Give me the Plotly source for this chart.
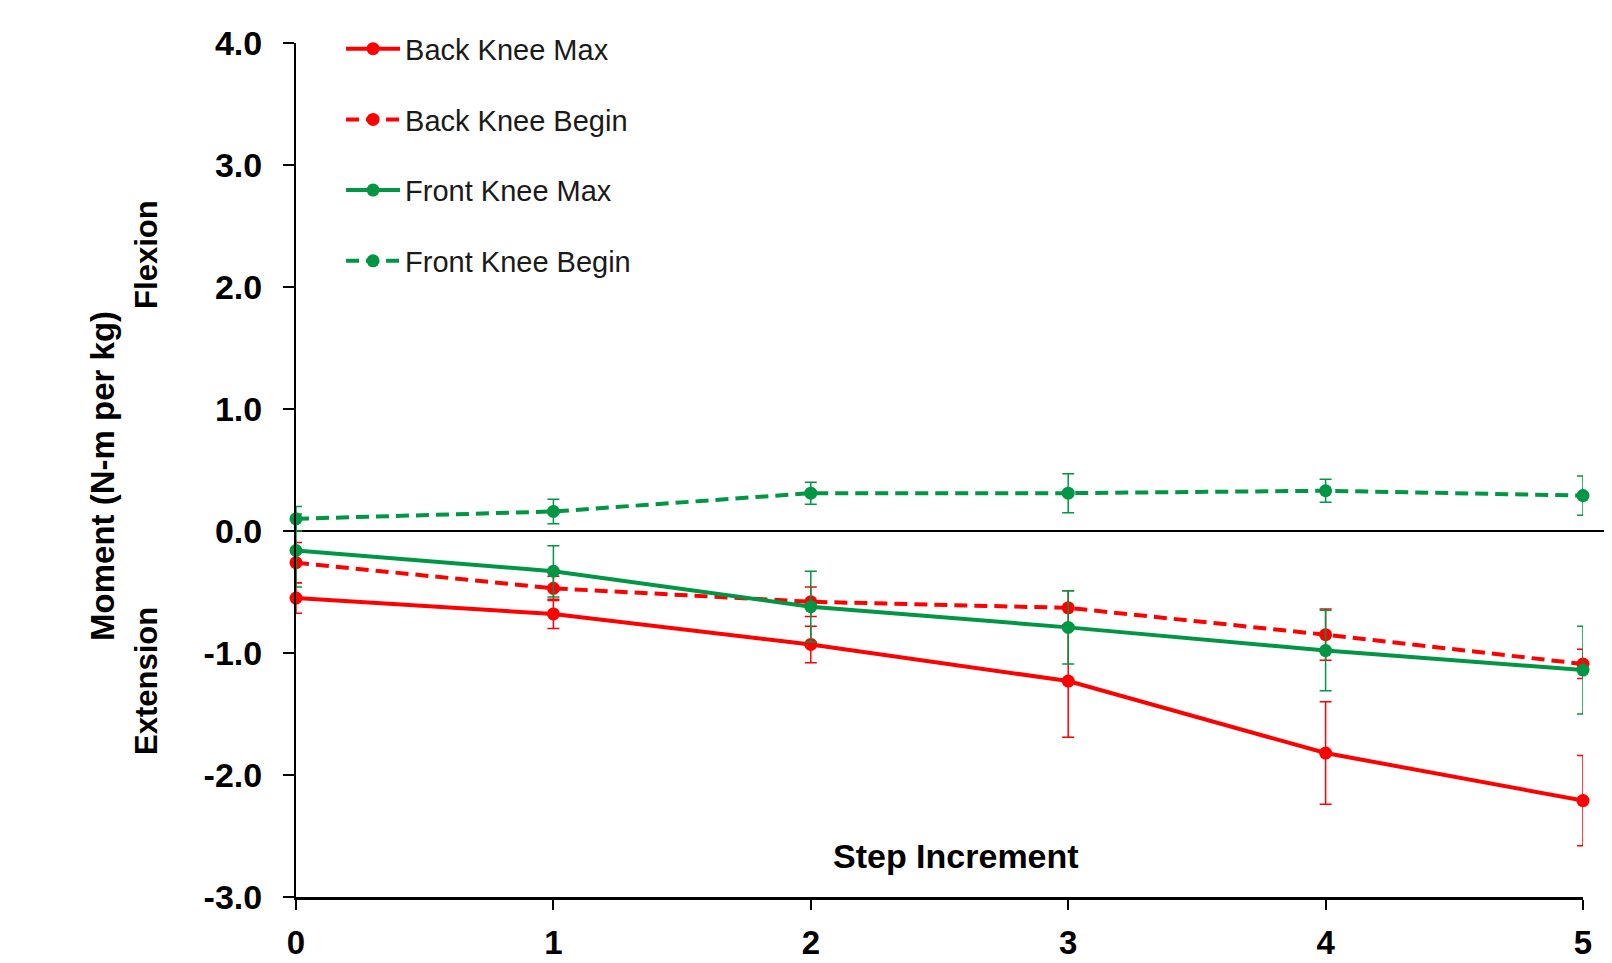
import plotly.graph_objects as go

# ---- data ----
steps = [0, 1, 2, 3, 4, 5]
x_tick_labels = ["0", "1", "2", "3", "4", "5"]
y_tick_vals = [-3, -2, -1, 0, 1, 2, 3, 4]
y_tick_labels = ["-3.0", "-2.0", "-1.0", "0.0", "1.0", "2.0", "3.0", "4.0"]

back_max = [-0.55, -0.68, -0.93, -1.23, -1.82, -2.21]
back_max_err = [0.125, 0.12, 0.15, 0.46, 0.42, 0.37]

back_begin = [-0.26, -0.47, -0.58, -0.63, -0.85, -1.09]
back_begin_err = [0.165, 0.10, 0.12, 0.14, 0.21, 0.12]

front_max = [-0.16, -0.33, -0.62, -0.79, -0.98, -1.14]
front_max_err = [0.30, 0.21, 0.29, 0.30, 0.33, 0.36]

front_begin = [0.10, 0.16, 0.31, 0.31, 0.33, 0.29]
front_begin_err = [0.10, 0.10, 0.09, 0.16, 0.095, 0.16]

RED = "#FF0000"
GREEN = "#009644"
FONT = "Liberation Sans"

series = [
    ("Back Knee Max", back_max, back_max_err, RED, "solid"),
    ("Back Knee Begin", back_begin, back_begin_err, RED, "13px,7px"),
    ("Front Knee Max", front_max, front_max_err, GREEN, "solid"),
    ("Front Knee Begin", front_begin, front_begin_err, GREEN, "13px,7px"),
]

fig = go.Figure()
for i, (name, vals, errs, col, dash) in enumerate(series):
    fig.add_trace(go.Scatter(
        x=steps, y=vals, name=name, mode="lines+markers",
        line=dict(color=col, width=4, dash=dash),
        marker=dict(color=col, size=13, symbol="circle"),
        error_y=dict(type="data", array=errs, visible=True,
                     color=col, thickness=1.5, width=6),
        legendgroup="g%d" % i,
        cliponaxis=False,
    ))

# zero line extending to right edge
fig.add_shape(type="line", xref="paper", yref="y", x0=0, x1=1.05, y0=0, y1=0,
              line=dict(color="black", width=2), layer="below")

# page body has an 8px margin, so the figure is 8px smaller and offset
fig.update_layout(
    width=1604, height=955,
    margin=dict(l=288, r=29, t=35, b=66, autoexpand=False),
    paper_bgcolor="white", plot_bgcolor="white",
    font=dict(family=FONT, color="black"),
    showlegend=True,
    legend=dict(x=0.035, xanchor="left", y=1.023, yanchor="top",
                font=dict(family=FONT, size=29, color="#1a1a1a"),
                traceorder="grouped", tracegroupgap=30,
                bgcolor="rgba(0,0,0,0)", itemwidth=54),
    xaxis=dict(range=[0, 5], tickvals=steps, ticktext=x_tick_labels,
               showgrid=False, zeroline=False, automargin=False,
               showline=True, linecolor="black", linewidth=3,
               ticks="outside", ticklen=10, tickwidth=2, tickcolor="black",
               tickfont=dict(family=FONT, size=33, color="black", weight="bold"),
               ticklabelstandoff=4),
    yaxis=dict(range=[-3, 4], tickvals=y_tick_vals, ticktext=y_tick_labels,
               showgrid=False, zeroline=False, automargin=False,
               showline=True, linecolor="black", linewidth=2,
               ticks="outside", ticklen=11, tickwidth=2, tickcolor="black",
               tickfont=dict(family=FONT, size=34, color="black", weight="bold"),
               ticklabelstandoff=14),
    annotations=[
        dict(text="<b>Moment (N-m per kg)</b>", xref="paper", yref="paper",
             x=-0.15, y=0.493, xanchor="center", yanchor="middle",
             textangle=-90, showarrow=False,
             font=dict(family=FONT, size=33, color="black")),
        dict(text="<b>Flexion</b>", xref="paper", yref="paper",
             x=-0.1158, y=0.753, xanchor="center", yanchor="middle",
             textangle=-90, showarrow=False,
             font=dict(family=FONT, size=31, color="black")),
        dict(text="<b>Extension</b>", xref="paper", yref="paper",
             x=-0.1158, y=0.253, xanchor="center", yanchor="middle",
             textangle=-90, showarrow=False,
             font=dict(family=FONT, size=31, color="black")),
        dict(text="<b>Step Increment</b>", xref="paper", yref="paper",
             x=0.513, y=0.048, xanchor="center", yanchor="middle",
             showarrow=False,
             font=dict(family=FONT, size=34, color="black")),
    ],
)

fig.write_html("out.html")
